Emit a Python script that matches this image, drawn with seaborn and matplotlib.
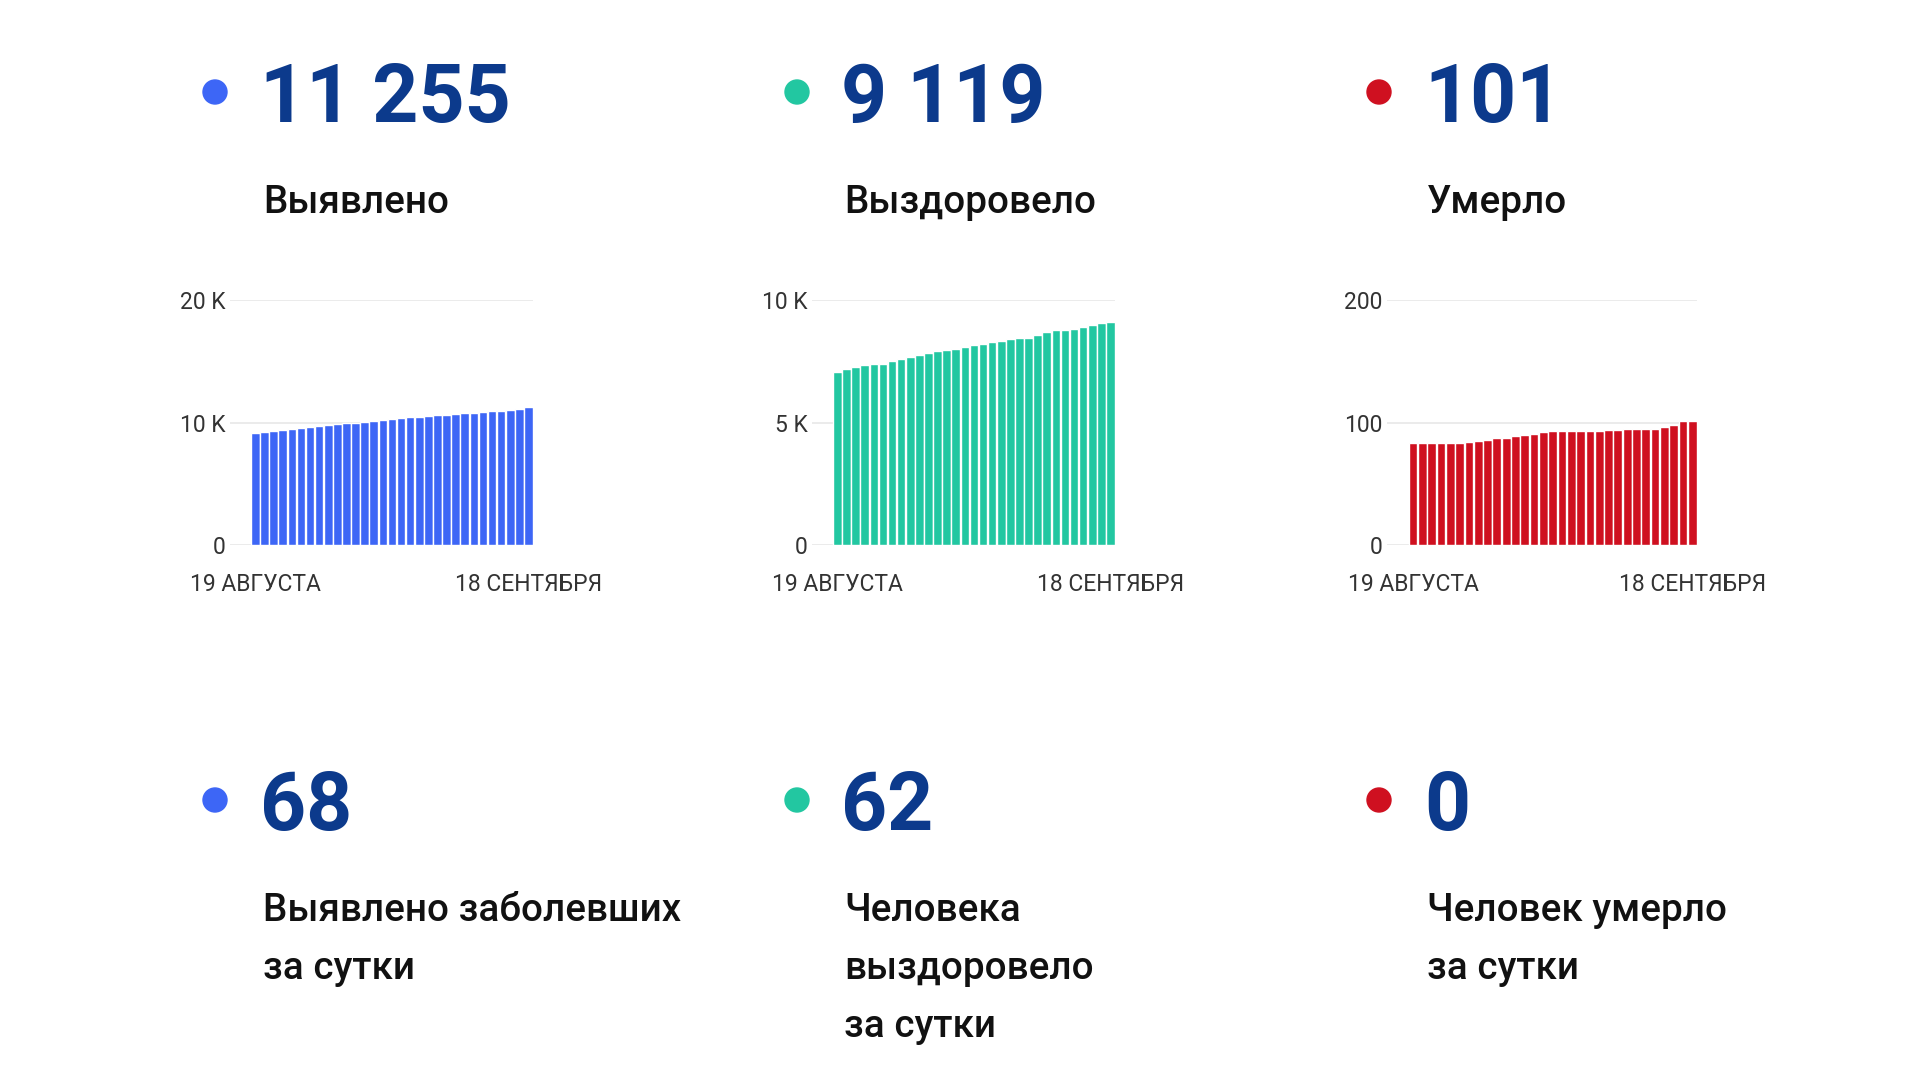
import matplotlib
matplotlib.use("Agg")
import matplotlib.pyplot as plt
from matplotlib.patches import Ellipse
import seaborn as sns
import pandas as pd

sns.set_theme(style="white")
plt.rcParams['font.family'] = ['Roboto', 'DejaVu Sans']

# ---- data ----
days = [d.strftime("%d.%m") for d in pd.date_range("2020-08-19", "2020-09-18")]
date_labels = ["19 АВГУСТА", "18 СЕНТЯБРЯ"]

detected = [9180, 9260, 9330, 9400, 9470, 9540, 9630, 9720, 9790, 9860,
            9930, 10000, 10080, 10160, 10240, 10320, 10370, 10420, 10470, 10520,
            10580, 10640, 10690, 10740, 10800, 10860, 10910, 10960, 11020, 11120,
            11255]
recovered = [7080, 7190, 7270, 7360, 7370, 7400, 7490, 7600, 7690, 7750,
             7840, 7900, 7960, 8010, 8080, 8150, 8220, 8290, 8340, 8400,
             8450, 8450, 8560, 8700, 8780, 8790, 8820, 8900, 8990, 9070,
             9119]
died = [83, 83, 83, 83, 83, 83, 84, 85, 86, 87,
        87, 89, 90, 91, 92, 93, 93, 93, 93, 93,
        93, 94, 94, 95, 95, 95, 95, 96, 98, 101,
        101]

totals = ["11 255", "9 119", "101"]
total_titles = ["Выявлено", "Выздоровело", "Умерло"]
daily = ["68", "62", "0"]
daily_titles = [["Выявлено заболевших", "за сутки"],
                ["Человека", "выздоровело", "за сутки"],
                ["Человек умерло", "за сутки"]]

colors = ["#3d66f6", "#22c7a1", "#cf1020"]
navy = "#0c3a8c"

y_limits = [20000, 10000, 200]
y_ticks = [[0, 10000, 20000], [0, 5000, 10000], [0, 100, 200]]
y_ticklabels = [["0", "10 K", "20 K"], ["0", "5 K", "10 K"], ["0", "100", "200"]]

# ---- layout (pixels) ----
W, H = 1920, 1080
fig = plt.figure(figsize=(19.2, 10.8), dpi=100)
fig.patch.set_facecolor("white")

dot_x = [215, 797, 1379]
text_x = [264, 845, 1428]
axes_px = [(230, 533), (812, 1115), (1387, 1697)]
ax_top, ax_bottom = 300, 545

series = [detected, recovered, died]

def fx(x):
    return x / W

def fy(y):
    return 1 - y / H

for i in range(3):
    # dots
    for cy in (92, 800):
        fig.patches.append(Ellipse((fx(dot_x[i]), fy(cy)), 24 / W, 24 / H,
                                   transform=fig.transFigure, color=colors[i],
                                   zorder=5))
    fig.text(fx(text_x[i] - 4), fy(122), totals[i], fontsize=58, fontweight="bold",
             color=navy, va="baseline", ha="left")
    fig.text(fx(text_x[i] - 1), fy(213), total_titles[i], fontsize=27.8, fontweight="medium",
             color="#111111", va="baseline", ha="left")
    fig.text(fx(text_x[i] - 4), fy(830), daily[i], fontsize=58, fontweight="bold",
             color=navy, va="baseline", ha="left")
    for j, line in enumerate(daily_titles[i]):
        fig.text(fx(text_x[i] - 1), fy(921 + 58 * j), line, fontsize=27.8, fontweight="medium",
                 color="#111111", va="baseline", ha="left")

    # charts
    l, r = axes_px[i]
    ax = fig.add_axes([fx(l), fy(ax_bottom), (r - l) / W, (ax_bottom - ax_top) / H])
    df = pd.DataFrame({"day": days, "value": series[i]})
    sns.barplot(data=df, x="day", y="value", color=colors[i], width=0.94,
                saturation=1, ax=ax, zorder=3)
    ax.set_xlim(-2.8, len(days) - 0.5)
    ax.set_ylim(0, y_limits[i])
    ax.set_yticks(y_ticks[i])
    ax.set_yticklabels(y_ticklabels[i], fontsize=16.5, color="#333333")
    ax.set_xticks([0, len(days) - 1])
    ax.set_xticklabels(date_labels, fontsize=16.5, color="#333333")
    ax.tick_params(axis="y", length=0, pad=3)
    ax.tick_params(axis="x", length=0, pad=20)
    ax.set_xlabel("")
    ax.set_ylabel("")
    for s in ax.spines.values():
        s.set_visible(False)
    ax.grid(axis="y", color="#e8e8e8", linewidth=1.2, zorder=0)
    ax.grid(axis="x", visible=False)
    ax.set_facecolor("none")

fig.savefig("out.png", dpi=100, facecolor="white")
